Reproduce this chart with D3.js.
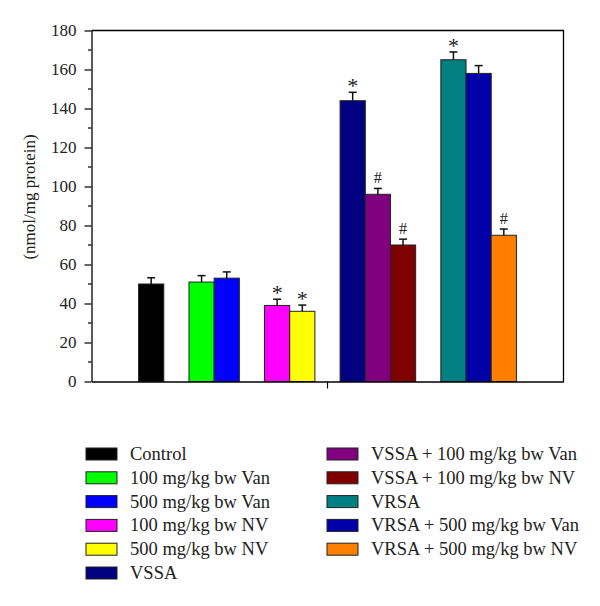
<!DOCTYPE html>
<html><head><meta charset="utf-8">
<script src="https://cdn.jsdelivr.net/npm/d3@7"></script>
<style>body{margin:0;background:#fff}svg{display:block}</style>
</head><body>
<svg id="c" width="600" height="606"></svg>
<script>
// ---- data ----
const categories = ["Control","100 mg/kg bw Van","500 mg/kg bw Van","100 mg/kg bw NV","500 mg/kg bw NV","VSSA","VSSA + 100 mg/kg bw Van","VSSA + 100 mg/kg bw NV","VRSA","VRSA + 500 mg/kg bw Van","VRSA + 500 mg/kg bw NV"];
const groupSizes = [1,2,2,3,3];
const values = [50,51,53,39,36,144,96,70,165,158,75];
const errors = [3.2,3.3,3.2,3.2,3.2,4.3,3.0,3.0,4.0,4.0,3.2];
const marks = ["","","","*","*","*","#","#","*","","#"];
const colors = ["#000000","#00ff00","#0000ff","#ff00ff","#ffff00","#000080","#800080","#800000","#008080","#0000a8","#ff8000"];
const yTicks = [0,20,40,60,80,100,120,140,160,180];
const yTitle = "(nmol/mg protein)";

// ---- layout ----
const svg = d3.select("#c");
const L = 91.5, R = 563.5, T = 30.5, B = 381.5;
const serif = "'Liberation Serif','Times New Roman',serif";

// slot positions: groups separated by one empty slot
const slots = [];
let s = 0;
groupSizes.forEach(n => { for (let i=0;i<n;i++) slots.push(s++); s++; });
const nSlots = s - 1;
const pad = 1.87;
const x = d3.scaleLinear().domain([-pad, nSlots + pad]).range([L, R]);
const y = d3.scaleLinear().domain([0,180]).range([B, T]);

const data = categories.map((c,i)=>({c, v:values[i], e:errors[i], m:marks[i], col:colors[i], slot:slots[i]}));

// bars
svg.append("g").selectAll("rect").data(data).join("rect")
  .attr("x", d=>x(d.slot)).attr("width", d=>x(d.slot+1)-x(d.slot))
  .attr("y", d=>y(d.v)).attr("height", d=>y(0)-y(d.v))
  .attr("fill", d=>d.col).attr("stroke","#222").attr("stroke-width",1);

// error bars
const eg = svg.append("g").attr("stroke","#111").attr("stroke-width",1.5);
data.forEach(d=>{
  const cx = x(d.slot+0.5);
  eg.append("line").attr("x1",cx).attr("x2",cx).attr("y1",y(d.v)).attr("y2",y(d.v+d.e));
  eg.append("line").attr("x1",cx-4).attr("x2",cx+4).attr("y1",y(d.v+d.e)).attr("y2",y(d.v+d.e));
});

// significance marks
svg.append("g").selectAll("text").data(data.filter(d=>d.m)).join("text")
  .attr("x", d=>x(d.slot+0.5))
  .attr("y", d=> d.m==="*" ? y(d.v+d.e)+1 : y(d.v+d.e)-5)
  .attr("text-anchor","middle")
  .attr("font-family", serif)
  .attr("font-size", d=> d.m==="*" ? 22 : 16)
  .attr("fill","#222")
  .text(d=>d.m);

// frame
svg.append("path").attr("d",`M${L},${T}H${R}V${B}`).attr("fill","none").attr("stroke","#000").attr("stroke-width",1.3);

// y axis
const yAxis = d3.axisLeft(y).tickValues(yTicks).tickSize(7).tickPadding(8).tickSizeOuter(0);
const ga = svg.append("g").attr("transform",`translate(${L},0)`).call(yAxis);
ga.select(".domain").attr("stroke","#000").attr("stroke-width",1.3);
ga.selectAll(".tick line").attr("stroke","#000").attr("stroke-width",1.2);
ga.selectAll(".tick text").attr("font-family",serif).attr("font-size",17).attr("fill","#222");
// minor ticks
const minor = d3.range(10,180,20);
svg.append("g").selectAll("line").data(minor).join("line")
  .attr("x1",L-3.5).attr("x2",L).attr("y1",d=>y(d)).attr("y2",d=>y(d))
  .attr("stroke","#000").attr("stroke-width",1.2);

// x axis
const xb = d3.scaleBand().domain([""]).range([L,R]);
const gx = svg.append("g").attr("transform",`translate(0,${B})`).call(d3.axisBottom(xb).tickSize(7).tickSizeOuter(0));
gx.select(".domain").attr("stroke","#000").attr("stroke-width",1.3);
gx.selectAll(".tick line").attr("stroke","#000").attr("stroke-width",1.2);

// y title
svg.append("text").attr("transform","translate(35,197) rotate(-90)")
  .attr("text-anchor","middle").attr("font-family",serif).attr("font-size",17).attr("fill","#222")
  .text(yTitle);

// legend
const leg = svg.append("g");
data.forEach((d,i)=>{
  const col = i < 6 ? 0 : 1;
  const row = i < 6 ? i : i-6;
  const sx = col===0 ? 86 : 327;
  const cy = 454 + row*23.8;
  leg.append("rect").attr("x",sx).attr("y",cy-6).attr("width",31).attr("height",12)
    .attr("fill",d.col).attr("stroke","#222").attr("stroke-width",1);
  leg.append("text").attr("x",sx+44).attr("y",cy+6)
    .attr("font-family",serif).attr("font-size",18.5).attr("fill","#222").text(d.c);
});
</script>
</body></html>
